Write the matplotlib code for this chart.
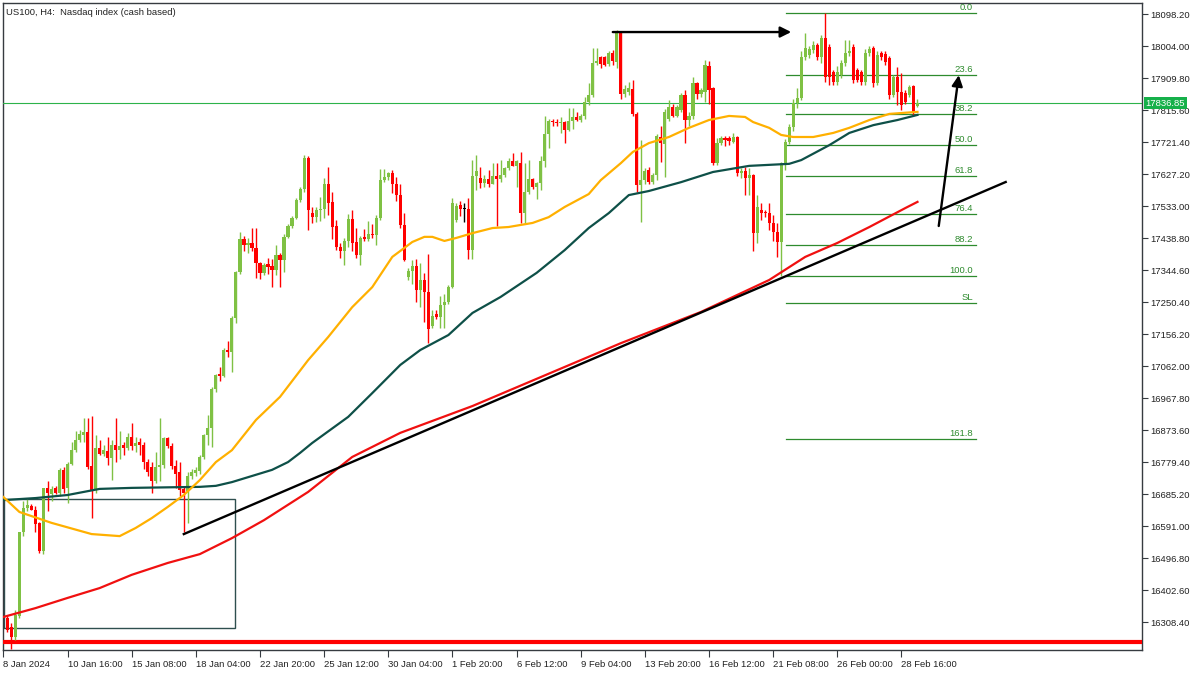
import matplotlib
matplotlib.use("Agg")
import matplotlib.pyplot as plt
import numpy as np
from matplotlib.patches import Rectangle

# ---------------- data (H4 candles, bar index 1..228) ----------------
open_ = [16322,16293,16266,16327,16573,16646,16652,16640,16600,16519,
         16703,16685,16703,16690,16757,16705,16773,16816,16845,16860,
         16868,16767,16698,16820,16805,16812,16792,16830,16816,16830,
         16822,16855,16828,16840,16830,16780,16765,16725,16765,16770,
         16850,16827,16768,16750,16700,16695,16740,16748,16755,16795,
         16860,16880,16995,17040,17032,17110,17103,17205,17340,17437,
         17418,17425,17410,17365,17337,17362,17358,17345,17390,17375,
         17443,17475,17498,17552,17585,17675,17512,17502,17522,17525,
         17600,17545,17475,17413,17400,17430,17495,17428,17390,17443,
         17438,17452,17448,17500,17610,17620,17630,17600,17565,17478,
         17325,17343,17358,17287,17316,17280,17180,17215,17207,17242,
         17250,17296,17493,17537,17524,17524,17405,17622,17617,17602,
         17612,17600,17622,17612,17625,17645,17665,17652,17660,17513,
         17575,17613,17590,17602,17665,17745,17785,17782,17777,17780,
         17757,17785,17795,17787,17800,17840,17862,17955,17972,17972,
         17952,17985,17958,18043,17863,17870,17878,17806,17596,17610,
         17640,17605,17625,17737,17715,17790,17825,17800,17816,17860,
         17787,17800,17895,17863,17870,17945,17880,17660,17720,17735,
         17735,17722,17737,17630,17637,17616,17625,17455,17522,17516,
         17513,17484,17457,17428,17660,17723,17767,17837,17852,17972,
         17978,17993,18008,17972,18028,18002,17929,17899,17920,17955,
         17984,18002,17934,17929,17899,17984,17999,17896,17984,17982,
         17970,17861,17914,17870,17866,17861,17887,17828]
high = [16330,16305,16345,16575,16665,16670,16658,16652,16605,16705,
        16725,16710,16710,16762,16765,16780,16840,16870,16875,16910,
        16910,16916,16860,16845,16830,16855,16845,16910,16870,16840,
        16865,16895,16855,16850,16840,16790,16780,16810,16910,16855,
        16855,16835,16785,16780,16710,16750,16760,16765,16800,16862,
        16920,17000,17040,17060,17115,17135,17210,17343,17458,17445,
        17440,17470,17470,17370,17365,17380,17378,17420,17395,17450,
        17480,17505,17557,17590,17684,17680,17530,17530,17560,17615,
        17650,17575,17493,17425,17440,17510,17522,17470,17445,17465,
        17490,17480,17507,17643,17643,17635,17640,17620,17600,17513,
        17352,17375,17378,17365,17337,17393,17228,17228,17270,17275,
        17300,17557,17544,17550,17544,17557,17669,17685,17650,17625,
        17640,17660,17660,17670,17650,17675,17690,17668,17693,17660,
        17670,17615,17605,17680,17800,17790,17790,17790,17795,17785,
        17822,17822,17810,17805,17855,17895,17998,17998,17975,17976,
        17990,17993,18052,18046,17890,17900,17905,17810,17728,17645,
        17648,17630,17745,17770,17820,17845,17835,17830,17868,17875,
        17812,17915,17900,17880,17964,17960,17885,17735,17740,17740,
        17740,17750,17740,17645,17650,17645,17628,17565,17543,17522,
        17543,17508,17484,17663,17730,17775,17850,17881,17990,18043,
        18005,18020,18015,18037,18101,18010,17935,17945,17965,18023,
        18023,18010,17940,17935,17995,18005,18005,17990,17990,17990,
        17975,17920,17943,17925,17875,17890,17890,17848]
low = [16280,16231,16257,16320,16563,16635,16640,16573,16513,16510,
       16635,16665,16685,16680,16690,16660,16770,16810,16840,16840,
       16760,16616,16690,16800,16798,16770,16728,16780,16790,16800,
       16815,16815,16810,16800,16760,16740,16690,16718,16725,16762,
       16820,16760,16705,16680,16573,16600,16730,16740,16745,16790,
       16830,16825,16985,17020,17030,17088,17045,17188,17335,17400,
       17395,17400,17322,17320,17330,17335,17295,17330,17295,17340,
       17440,17470,17495,17545,17575,17463,17485,17488,17490,17500,
       17507,17436,17405,17380,17360,17413,17400,17380,17360,17430,
       17430,17440,17420,17493,17605,17610,17572,17550,17470,17372,
       17316,17305,17252,17237,17193,17130,17175,17200,17175,17175,
       17245,17293,17487,17505,17487,17378,17378,17580,17587,17590,
       17590,17598,17475,17605,17620,17640,17660,17590,17483,17483,
       17570,17585,17555,17580,17650,17705,17768,17770,17750,17720,
       17755,17760,17785,17782,17790,17830,17855,17948,17940,17945,
       17945,17950,17940,17850,17855,17860,17800,17575,17487,17600,
       17598,17600,17610,17663,17620,17785,17795,17795,17810,17720,
       17770,17790,17850,17855,17840,17835,17655,17655,17712,17710,
       17712,17718,17622,17615,17566,17566,17400,17425,17493,17501,
       17463,17431,17384,17327,17640,17715,17755,17822,17845,17965,
       17970,17985,17965,17955,17899,17890,17890,17890,17910,17945,
       17975,17895,17898,17890,17890,17975,17885,17890,17965,17950,
       17850,17855,17830,17816,17835,17855,17798,17825]
close = [16287,16266,16331,16573,16646,16655,16640,16597,16519,16703,
         16690,16700,16690,16757,16700,16773,16816,16845,16862,16868,
         16765,16698,16820,16805,16815,16792,16830,16816,16827,16822,
         16855,16828,16835,16830,16780,16750,16725,16765,16770,16850,
         16827,16768,16745,16698,16690,16740,16750,16758,16795,16860,
         16880,16995,17035,17032,17110,17103,17205,17340,17437,17418,
         17425,17410,17365,17337,17360,17355,17345,17390,17375,17443,
         17475,17498,17552,17585,17675,17522,17502,17522,17525,17600,
         17542,17472,17413,17400,17430,17495,17425,17390,17440,17438,
         17450,17448,17500,17610,17620,17630,17598,17565,17478,17375,
         17343,17358,17287,17316,17280,17172,17210,17207,17242,17250,
         17296,17544,17534,17525,17524,17405,17622,17637,17602,17612,
         17600,17622,17612,17625,17645,17665,17652,17665,17513,17575,
         17613,17590,17602,17665,17745,17785,17780,17777,17780,17757,
         17785,17795,17787,17800,17840,17862,17955,17962,17952,17950,
         17983,17960,18043,17863,17878,17880,17806,17596,17610,17637,
         17605,17625,17740,17718,17810,17825,17800,17825,17860,17787,
         17800,17895,17863,17875,17950,17875,17660,17720,17735,17728,
         17725,17737,17630,17637,17616,17625,17455,17530,17513,17513,
         17484,17457,17428,17660,17723,17767,17837,17852,17972,17999,
         17996,18008,17972,18028,17914,17914,17899,17929,17955,17984,
         17990,17905,17905,17899,17984,17996,17896,17978,17972,17958,
         17861,17914,17870,17832,17840,17884,17810,17836.85]

# moving averages (vertices)
ma_fast_bars = [0,4,12,22,29,33,37,41,45,49,53,57,63,69,76,81,87,92,97,102,
                105,107,110,113,117,122,126,132,136,140,146,149,154,157,161,166,
                171,176,181,185,187,191,194,197,202,207,211,216,221,228]
ma_fast_vals = [16677,16633,16601,16568,16562,16586,16615,16648,16683,16727,
                16780,16815,16904,16972,17080,17148,17236,17295,17384,17428,
                17443,17443,17431,17440,17454,17469,17472,17484,17501,17531,
                17569,17610,17660,17693,17719,17737,17764,17787,17799,17796,
                17781,17764,17743,17737,17737,17749,17764,17787,17805,17811]
ma_mid_bars = [0,8,16,24,32,49,53,57,62,67,71,74,77,86,92,99,104,111,117,124,
               133,140,146,151,156,161,169,177,186,191,196,199,206,211,217,223,228]
ma_mid_vals = [16668,16674,16683,16701,16704,16707,16710,16721,16739,16757,
               16780,16807,16836,16913,16983,17066,17110,17154,17219,17266,
               17337,17404,17469,17513,17566,17578,17604,17634,17652,17655,
               17658,17669,17713,17749,17772,17787,17802]
ma_slow_bars = [0,8,16,24,32,41,49,57,65,76,87,99,117,134,154,174,191,200,208,
                216,225,228]
ma_slow_vals = [16324,16350,16380,16409,16448,16483,16509,16556,16609,16692,
                16795,16866,16945,17030,17130,17222,17316,17384,17425,17472,
                17528,17546]

# drawn objects
trend_bars = [45, 250]
trend_prices = [16568, 17604.5]
harrow_bars = [152, 196.5]
harrow_price = 18046
darrow_bars = [233.3, 238.3]
darrow_prices = [17475, 17919]
box_bars = [0.1, 57.7]
box_prices = [16291, 16671]
support_price = 16250
last_price = 17836.85

fib_high = 18101
fib_low = 17327
fib_levels = [0.0, 23.6, 38.2, 50.0, 61.8, 76.4, 88.2, 100.0, 110.0, 161.8]
fib_labels = ['0.0', '23.6', '38.2', '50.0', '61.8', '76.4', '88.2', '100.0', 'SL', '161.8']
fib_bars = [195.2, 242.5]

y_ticks = [18098.20 - 94.2 * k for k in range(20)]
x_tick_bars = [0, 16, 32, 48, 64, 80, 96, 112, 128, 144, 160, 176, 192, 208, 224]
x_tick_labels = ['8 Jan 2024', '10 Jan 16:00', '15 Jan 08:00', '18 Jan 04:00',
                 '22 Jan 20:00', '25 Jan 12:00', '30 Jan 04:00', '1 Feb 20:00',
                 '6 Feb 12:00', '9 Feb 04:00', '13 Feb 20:00', '16 Feb 12:00',
                 '21 Feb 08:00', '26 Feb 00:00', '28 Feb 16:00']

# ---------------- drawing ----------------
plt.rcParams['font.family'] = ['Liberation Sans', 'DejaVu Sans']
FS = 6.8
UP = '#7FC144'
DOWN = '#FF0000'
FIBC = '#2E8B2E'
FRAME = '#363B40'

fig = plt.figure(figsize=(12, 6.75), dpi=100)
ax = fig.add_axes([3 / 1200, 25 / 675, 1139 / 1200, 647 / 675])
ax.set_xlim(-0.1, 284.0)
ax.set_ylim(16226.7, 18131.5)

o = np.array(open_, float)
h = np.array(high, float)
l = np.array(low, float)
c = np.array(close, float)
x = np.arange(1, len(o) + 1)
colors = np.where(c > o, UP, np.where(c < o, DOWN, '#000000'))

# box
ax.add_patch(Rectangle((box_bars[0], box_prices[0]), box_bars[1] - box_bars[0],
                       box_prices[1] - box_prices[0], fill=False,
                       edgecolor='#2F4F4F', lw=1.0, zorder=2))

# fib levels
for lev, lab in zip(fib_levels, fib_labels):
    p = fib_high - (fib_high - fib_low) * lev / 100.0
    ax.plot(fib_bars, [p, p], color=FIBC, lw=0.9, zorder=2)
    ax.text(fib_bars[1] - 0.6, p + 3, lab, color=FIBC, fontsize=FS,
            ha='right', va='bottom', zorder=6)

# support line
ax.axhline(support_price, color='#FF0000', lw=3.0, zorder=3)

# candles
hi = np.maximum(h, np.maximum(o, c))
lo = np.minimum(l, np.minimum(o, c))
ax.vlines(x, lo, hi, colors=colors, lw=1.0, zorder=4)
body_bottom = np.minimum(o, c)
body_h = np.maximum(np.abs(c - o), 2.9)
ax.bar(x, body_h, bottom=body_bottom, width=0.78, color=colors,
       edgecolor='none', zorder=4)

# moving averages
ax.plot(ma_slow_bars, ma_slow_vals, color='#F01010', lw=1.6, zorder=5)
ax.plot(ma_mid_bars, ma_mid_vals, color='#0E5048', lw=1.6, zorder=5)
ax.plot(ma_fast_bars, ma_fast_vals, color='#FFB000', lw=1.6, zorder=5)

# trend line
ax.plot(trend_bars, trend_prices, color='black', lw=1.7, zorder=6)

# arrows
ax.annotate('', xy=(harrow_bars[1], harrow_price), xytext=(harrow_bars[0], harrow_price),
            arrowprops=dict(arrowstyle='-|>', color='black', lw=1.7,
                            mutation_scale=16, shrinkA=0, shrinkB=0), zorder=7)
ax.annotate('', xy=(darrow_bars[1], darrow_prices[1]), xytext=(darrow_bars[0], darrow_prices[0]),
            arrowprops=dict(arrowstyle='-|>', color='black', lw=1.7,
                            mutation_scale=16, shrinkA=0, shrinkB=0), zorder=7)

# last price line + label
ax.axhline(last_price, color='#2DB34A', lw=0.8, zorder=3)
ax.text(1.003, last_price, f'{last_price:.2f}', transform=ax.get_yaxis_transform(),
        fontsize=FS, color='white', ha='left', va='center', zorder=10,
        bbox=dict(boxstyle='square,pad=0.18', fc='#16B04A', ec='none'),
        clip_on=False)

# axes styling
for s in ax.spines.values():
    s.set_color(FRAME)
    s.set_linewidth(1.0)
ax.yaxis.tick_right()
ax.set_yticks(y_ticks)
ax.set_yticklabels([f'{v:.2f}' for v in y_ticks])
ax.tick_params(axis='y', direction='out', length=4, width=0.8, color=FRAME,
               labelsize=FS, labelcolor='#222222', pad=2)
ax.set_xticks(x_tick_bars)
ax.set_xticklabels(x_tick_labels)
for t in ax.get_xticklabels():
    t.set_horizontalalignment('left')
ax.tick_params(axis='x', direction='out', length=5, width=0.8, color=FRAME,
               labelsize=FS, labelcolor='#222222', pad=2)

# title
ax.text(0.003, 0.992, 'US100, H4:  Nasdaq index (cash based)', transform=ax.transAxes,
        fontsize=FS, color='#222222', ha='left', va='top')

fig.savefig('out.png', dpi=100, facecolor='white')
